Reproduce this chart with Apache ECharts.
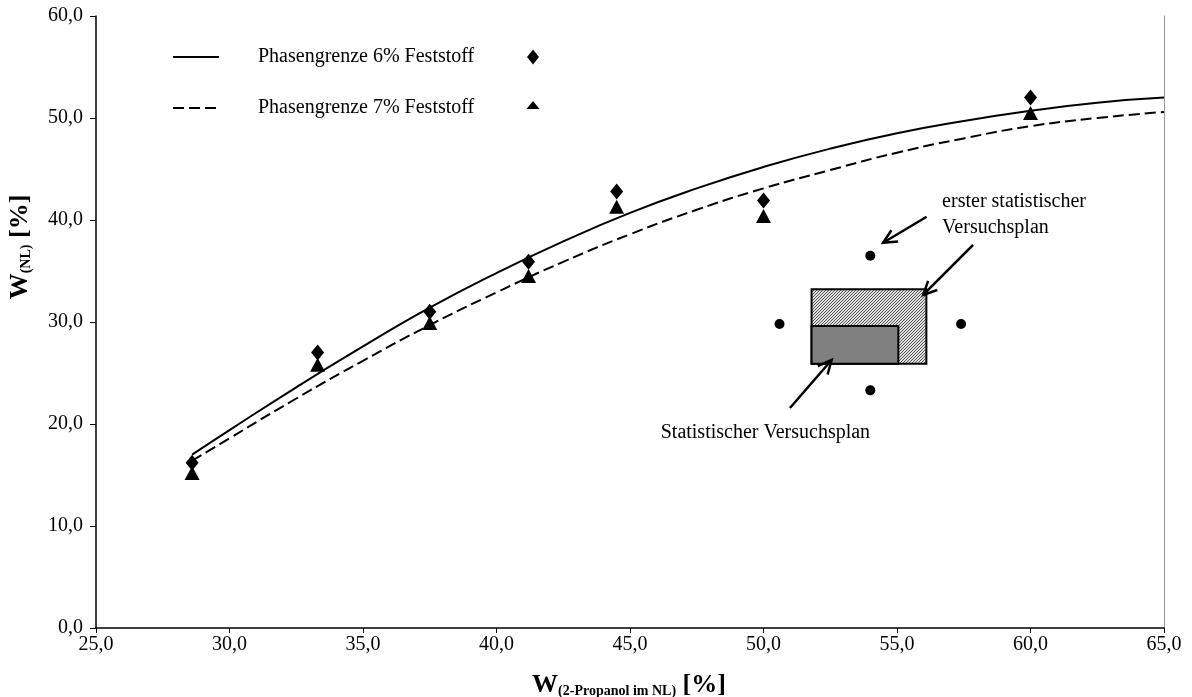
<!DOCTYPE html>
<html>
<head>
<meta charset="utf-8">
<script src="https://cdn.jsdelivr.net/npm/echarts@6/dist/echarts.min.js"></script>
<style>
  html, body { margin: 0; padding: 0; background: #fff; }
  #chart { width: 1192px; height: 697px; }
</style>
</head>
<body>
<div id="chart"></div>
<script>
// Phase boundary curves (x = W 2-Propanol im NL, y = W NL)
const curveX = [28.6, 30, 32.5, 35, 37.5, 40, 42.5, 45, 47.5, 50, 52.5, 55, 57.5, 60, 62.5, 65];
const curve6 = [17.0, 19.4, 23.6, 27.6, 31.4, 34.8, 37.9, 40.7, 43.1, 45.2, 47.0, 48.5, 49.7, 50.7, 51.5, 52.0];
const curve7 = [16.4, 18.6, 22.5, 26.2, 29.7, 32.9, 35.9, 38.6, 41.0, 43.1, 44.9, 46.6, 48.0, 49.2, 50.0, 50.6];

// Measured boundary points
const measX = [28.6, 33.3, 37.5, 41.2, 44.5, 50.0, 60.0];
const meas6 = [16.2, 27.0, 31.0, 35.9, 42.8, 41.9, 52.0];
const meas7 = [15.2, 25.8, 29.9, 34.5, 41.3, 40.4, 50.5];

// Star points of the first experimental design
const designX = [54.0, 50.6, 57.4, 54.0];
const designY = [36.5, 29.8, 29.8, 23.3];

// Design regions: [x1, y1, x2, y2, hatched]
const planAreas = [
  [51.8, 25.9, 56.1, 33.2, 1],
  [51.8, 25.9, 55.05, 29.6, 0]
];

// Annotation arrows: [fromX, fromY, toX, toY]
const arrows = [
  [56.11, 40.32, 54.48, 37.77],
  [57.85, 37.55, 55.98, 32.65],
  [50.99, 21.57, 52.55, 26.27]
];

// Annotation texts
const noteX = [56.69, 56.69, 46.15];
const noteY = [41.8, 39.2, 19.1];
const noteText = ['erster statistischer', 'Versuchsplan', 'Statistischer Versuchsplan'];

// Axis ticks
const xTicks = { min: 25, max: 65, step: 5 };
const yTicks = { min: 0, max: 60, step: 10 };

const serif = '"Liberation Serif", "Times New Roman", serif';
const fmt = v => v.toFixed(1).replace('.', ',');

// Fine diagonal hatch pattern for the first design area
const hatchCanvas = document.createElement('canvas');
hatchCanvas.width = 3; hatchCanvas.height = 3;
(function () {
  const ctx = hatchCanvas.getContext('2d');
  ctx.fillStyle = '#e2e2e2';
  ctx.fillRect(0, 0, 3, 3);
  ctx.strokeStyle = '#404040';
  ctx.lineWidth = 0.9;
  ctx.beginPath();
  ctx.moveTo(0, 3); ctx.lineTo(3, 0);
  ctx.moveTo(-1, 1); ctx.lineTo(1, -1);
  ctx.moveTo(2, 4); ctx.lineTo(4, 2);
  ctx.stroke();
})();
const hatch = { image: hatchCanvas, repeat: 'repeat' };

const chart = echarts.init(document.getElementById('chart'), null, { renderer: 'canvas' });

const pairs = (xs, ys) => xs.map((x, i) => [x, ys[i]]);

// Axis titles: bold W with a bold subscript
const titleRich = {
  w: { fontFamily: serif, fontSize: 26, fontWeight: 'bold', fill: '#000', lineHeight: 26 },
  s: { fontFamily: serif, fontSize: 14, fontWeight: 'bold', fill: '#000', verticalAlign: 'bottom', lineHeight: 16 }
};

const option = {
  backgroundColor: '#fff',
  animation: false,
  grid: { left: 96, right: 28, top: 16, bottom: 69 },
  legend: {
    data: ['Phasengrenze 6% Feststoff', 'Phasengrenze 7% Feststoff'],
    orient: 'vertical',
    left: 167,
    top: 42,
    itemWidth: 46,
    itemHeight: 20,
    itemGap: 31,
    selectedMode: false,
    itemStyle: { opacity: 0 },
    textStyle: { fontFamily: serif, fontSize: 20, color: '#000', padding: [0, 0, 0, 34], lineHeight: 20 }
  },
  xAxis: {
    type: 'value',
    min: xTicks.min, max: xTicks.max, interval: xTicks.step,
    axisLine: { lineStyle: { color: '#000', width: 1.5 } },
    axisTick: { show: true, length: 5, lineStyle: { color: '#000', width: 1 } },
    axisLabel: { formatter: fmt, fontFamily: serif, fontSize: 20, color: '#000', margin: 7, showMaxLabel: true, showMinLabel: true },
    splitLine: { show: false }
  },
  yAxis: [{
    type: 'value',
    min: yTicks.min, max: yTicks.max, interval: yTicks.step,
    axisLine: { show: true, lineStyle: { color: '#000', width: 1.5 } },
    axisTick: { show: true, length: 6, lineStyle: { color: '#000', width: 1 } },
    axisLabel: { formatter: fmt, fontFamily: serif, fontSize: 20, color: '#000', margin: 13 },
    splitLine: { show: false }
  }, {
    type: 'value',
    position: 'right',
    min: yTicks.min, max: yTicks.max, interval: yTicks.step,
    axisLine: { show: true, lineStyle: { color: '#9a9a9a', width: 1 } },
    axisTick: { show: false },
    axisLabel: { show: false },
    splitLine: { show: false }
  }],
  graphic: [
    // legend marker samples
    { type: 'polygon', shape: { points: [[533, 49.5], [539, 57], [533, 64.5], [527, 57]] }, style: { fill: '#000' } },
    { type: 'polygon', shape: { points: [[533, 101], [539.5, 109], [526.5, 109]] }, style: { fill: '#000' } },
    // y axis title
    {
      type: 'text', x: 20, y: 247, rotation: Math.PI / 2,
      style: { text: '{w|W}{s|(NL)}{w| [%]}', align: 'center', verticalAlign: 'middle', rich: titleRich }
    },
    // x axis title
    {
      type: 'text', x: 629, y: 685,
      style: { text: '{w|W}{s|(2-Propanol im NL)}{w| [%]}', align: 'center', verticalAlign: 'middle', rich: titleRich }
    }
  ],
  series: [
    {
      name: 'Phasengrenze 6% Feststoff',
      type: 'line',
      data: pairs(curveX, curve6),
      smooth: true,
      symbol: 'none',
      lineStyle: { color: '#000', width: 2 },
      itemStyle: { color: '#000' },
      z: 3
    },
    {
      name: 'Phasengrenze 7% Feststoff',
      type: 'line',
      data: pairs(curveX, curve7),
      smooth: true,
      symbol: 'none',
      lineStyle: { color: '#000', width: 2, type: [11, 5] },
      itemStyle: { color: '#000' },
      z: 3
    },
    {
      name: 'Messpunkte 6%',
      type: 'scatter',
      data: pairs(measX, meas6),
      symbol: 'diamond',
      symbolSize: [13, 16],
      itemStyle: { color: '#000', opacity: 1 },
      z: 4
    },
    {
      name: 'Messpunkte 7%',
      type: 'scatter',
      data: pairs(measX, meas7),
      symbol: 'triangle',
      symbolSize: [15, 14],
      itemStyle: { color: '#000', opacity: 1 },
      z: 4
    },
    {
      name: 'Sternpunkte',
      type: 'scatter',
      data: pairs(designX, designY),
      symbol: 'circle',
      symbolSize: 10,
      itemStyle: { color: '#000', opacity: 1 },
      z: 4
    },
    {
      name: 'Versuchsbereiche',
      type: 'custom',
      data: planAreas,
      encode: { x: [0, 2], y: [1, 3] },
      renderItem: function (params, api) {
        const p1 = api.coord([api.value(0), api.value(1)]);
        const p2 = api.coord([api.value(2), api.value(3)]);
        return {
          type: 'rect',
          shape: { x: p1[0], y: p2[1], width: p2[0] - p1[0], height: p1[1] - p2[1] },
          style: { fill: api.value(4) === 1 ? hatch : '#808080', stroke: '#000', lineWidth: 2 }
        };
      },
      z: 2
    },
    {
      name: 'Pfeile',
      type: 'custom',
      data: arrows,
      encode: { x: [0, 2], y: [1, 3] },
      renderItem: function (params, api) {
        const a = api.coord([api.value(0), api.value(1)]);
        const b = api.coord([api.value(2), api.value(3)]);
        const ang = Math.atan2(b[1] - a[1], b[0] - a[0]);
        const len = 15, spread = Math.PI / 7;
        const h1 = [b[0] - len * Math.cos(ang - spread), b[1] - len * Math.sin(ang - spread)];
        const h2 = [b[0] - len * Math.cos(ang + spread), b[1] - len * Math.sin(ang + spread)];
        return {
          type: 'group',
          children: [
            { type: 'line', shape: { x1: a[0], y1: a[1], x2: b[0], y2: b[1] }, style: { stroke: '#000', lineWidth: 2.5 } },
            { type: 'polyline', shape: { points: [h1, b, h2] }, style: { stroke: '#000', lineWidth: 2.5, fill: null } }
          ]
        };
      },
      z: 5
    },
    {
      name: 'Beschriftung',
      type: 'custom',
      data: pairs(noteX, noteY),
      renderItem: function (params, api) {
        const p = api.coord([api.value(0), api.value(1)]);
        return {
          type: 'text',
          x: p[0], y: p[1],
          style: { text: noteText[params.dataIndex], fontFamily: serif, fontSize: 20, fill: '#000', align: 'left', verticalAlign: 'middle' }
        };
      },
      z: 5
    }
  ]
};

chart.setOption(option);
</script>
</body>
</html>
